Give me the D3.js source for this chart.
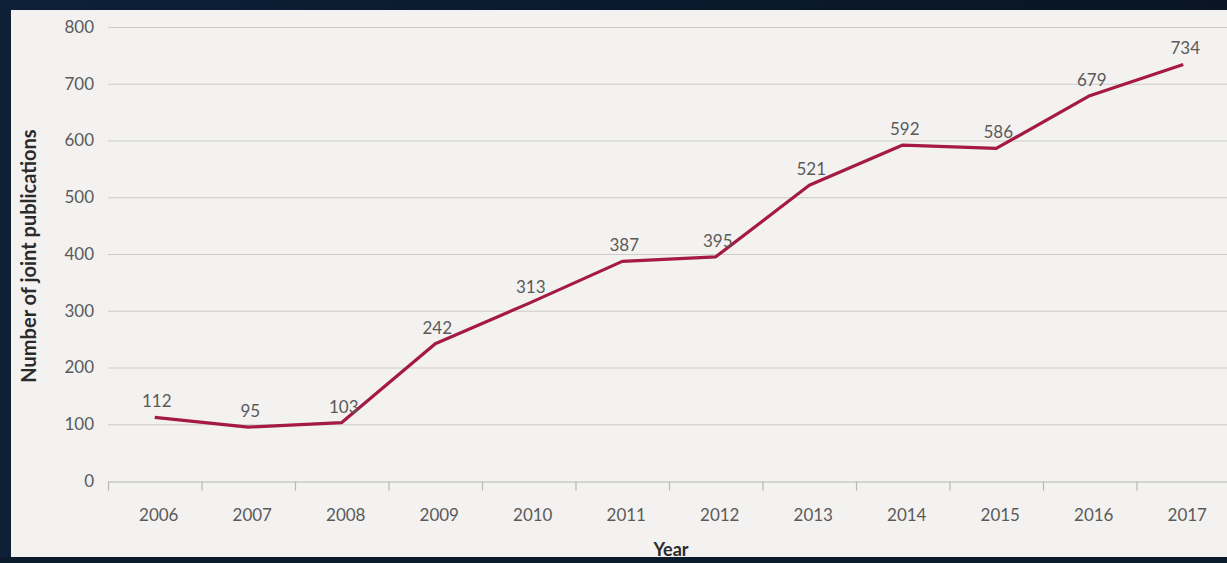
<!DOCTYPE html>
<html>
<head>
<meta charset="utf-8">
<script src="https://cdn.jsdelivr.net/npm/d3@7"></script>
<style>
  html, body { margin: 0; padding: 0; background: #07111f; }
  svg { display: block; }
</style>
</head>
<body>
<svg id="chart" width="1227" height="563"></svg>
<script>
// chart data
let years = ["2006", "2007", "2008", "2009", "2010", "2011", "2012", "2013", "2014", "2015", "2016", "2017"];
let pubs = [112, 95, 103, 242, 313, 387, 395, 521, 592, 586, 679, 734];
let yTicks = [0, 100, 200, 300, 400, 500, 600, 700, 800];

let svg = d3.select("#chart");
let width = +svg.attr("width");
let height = +svg.attr("height");

// dark frame + light panel
let defs = svg.append("defs");
let grad = defs.append("linearGradient").attr("id", "bg").attr("x1", 0).attr("x2", 1).attr("y1", 0).attr("y2", 0);
grad.append("stop").attr("offset", "0%").attr("stop-color", "#0d2036");
grad.append("stop").attr("offset", "50%").attr("stop-color", "#0a1a2e");
grad.append("stop").attr("offset", "100%").attr("stop-color", "#091523");
svg.append("rect").attr("width", width).attr("height", height).attr("fill", "url(#bg)");
svg.append("rect")
  .attr("x", 11).attr("y", 10)
  .attr("width", width - 11).attr("height", 547)
  .attr("fill", "#f3f2f0");

let plotLeft = 108, plotRight = 1230, plotTop = 27, plotBottom = 481;

let x = d3.scaleBand().domain(years).range([plotLeft, plotRight]);
let y = d3.scaleLinear().domain([0, 800]).range([plotBottom, plotTop]);

let font = "Lato, 'Open Sans', sans-serif";
let fs = 17;

// horizontal grid
svg.append("g")
  .selectAll("line")
  .data(yTicks.filter(d => d > 0))
  .enter()
  .append("line")
  .attr("x1", plotLeft)
  .attr("x2", width)
  .attr("y1", d => y(d) + 0.5)
  .attr("y2", d => y(d) + 0.5)
  .attr("stroke", "#cbcbcb")
  .attr("stroke-width", 1.2);

// y tick labels
svg.append("g")
  .selectAll("text")
  .data(yTicks)
  .enter()
  .append("text")
  .attr("x", 94)
  .attr("y", d => y(d))
  .attr("dy", "0.35em")
  .attr("text-anchor", "end")
  .attr("font-family", font)
  .attr("font-size", fs)
  .attr("fill", "#5a5a5a")
  .text(d => d);

// x axis
let xAxis = d3.axisBottom(x).tickSize(0).tickPadding(27);
let gx = svg.append("g")
  .attr("transform", "translate(0," + (plotBottom + 0.5) + ")")
  .call(xAxis);
gx.select(".domain").attr("stroke", "#b5b5b5").attr("stroke-width", 1.2);
gx.selectAll("text")
  .attr("dx", 4)
  .attr("font-family", font)
  .attr("font-size", fs)
  .attr("fill", "#5a5a5a");

// tick marks between categories
gx.append("g")
  .selectAll("line")
  .data(years)
  .enter()
  .append("line")
  .attr("x1", d => x(d) + 0.5)
  .attr("x2", d => x(d) + 0.5)
  .attr("y1", 0)
  .attr("y2", 9)
  .attr("stroke", "#b5b5b5")
  .attr("stroke-width", 1.2);

// line
let line = d3.line()
  .x((d, i) => x(years[i]) + x.bandwidth() / 2)
  .y(d => y(d));

svg.append("path")
  .datum(pubs)
  .attr("d", line)
  .attr("fill", "none")
  .attr("stroke", "#a51a44")
  .attr("stroke-width", 3.2)
  .attr("stroke-linejoin", "round");

// value labels
svg.append("g")
  .selectAll("text")
  .data(pubs)
  .enter()
  .append("text")
  .attr("x", (d, i) => x(years[i]) + x.bandwidth() / 2 + 2)
  .attr("y", d => y(d) - 10)
  .attr("text-anchor", "middle")
  .attr("font-family", font)
  .attr("font-size", fs)
  .attr("fill", "#5a5a5a")
  .text(d => d);

// axis titles
svg.append("text")
  .attr("transform", "translate(36,256) rotate(-90)")
  .attr("text-anchor", "middle")
  .attr("font-family", font)
  .attr("font-size", 20)
  .attr("font-weight", "bold")
  .attr("fill", "#2b2b2b")
  .text("Number of joint publications");

svg.append("text")
  .attr("x", 671)
  .attr("y", 556)
  .attr("text-anchor", "middle")
  .attr("font-family", font)
  .attr("font-size", 18)
  .attr("font-weight", "bold")
  .attr("fill", "#2b2b2b")
  .text("Year");

// bottom dark strip
svg.append("rect")
  .attr("x", 0).attr("y", 557)
  .attr("width", width).attr("height", 6)
  .attr("fill", "#0b1a2c");
</script>
</body>
</html>
